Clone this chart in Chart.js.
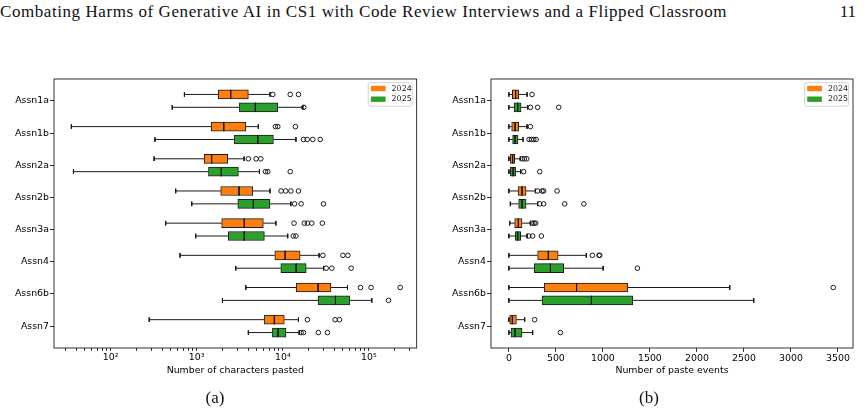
<!DOCTYPE html>
<html>
<head>
<meta charset="utf-8">
<script src="https://cdn.jsdelivr.net/npm/chart.js@4.4.1/dist/chart.umd.min.js"></script>
<style>
  html, body { margin: 0; padding: 0; background: #fff; }
  #page { position: relative; width: 868px; height: 413px; overflow: hidden; background: #fff; }
  .serif { position: absolute; font-family: 'Liberation Serif', 'DejaVu Serif', serif; color: #111; white-space: nowrap; font-size: 17px; }
  #header { left: 0; top: 2px; letter-spacing: 0.57px; }
  #pageno { right: 12px; top: 2px; }
  .caption { width: 100px; text-align: center; top: 388px; }
  canvas { position: absolute; top: 60px; }
</style>
</head>
<body>
<div id="page">
  <div id="header" class="serif">Combating Harms of Generative AI in CS1 with Code Review Interviews and a Flipped Classroom</div>
  <div id="pageno" class="serif">11</div>
  <canvas id="chars" width="434" height="330" style="left:0"></canvas>
  <canvas id="events" width="434" height="330" style="left:434px"></canvas>
  <div class="serif caption" style="left:165px">(a)</div>
  <div class="serif caption" style="left:599px">(b)</div>
</div>
<script>
// Assignments and cohorts
const categories = ['Assn1a', 'Assn1b', 'Assn2a', 'Assn2b', 'Assn3a', 'Assn4', 'Assn6b', 'Assn7'];
const years = ['2024', '2025'];
const yearColors = ['#ff7f0e', '#2ca02c'];

// Box stats per assignment: [whisker low, Q1, median, Q3, whisker high]
const chars2024 = [
  [720, 1780, 2480, 3980, 7100],
  [35, 1470, 2060, 3720, 5200],
  [320, 1220, 1490, 2290, 3550],
  [570, 1900, 3100, 4480, 7100],
  [436, 1950, 3570, 5940, 8300],
  [640, 8070, 10650, 15900, 26400],
  [3720, 14300, 25700, 36200, 56400],
  [281, 6110, 7980, 10400, 15200]
];
const chars2025 = [
  [520, 3130, 4800, 8750, 17100],
  [327, 2720, 5120, 7780, 14200],
  [37, 1370, 1930, 3050, 5350],
  [875, 3000, 4550, 7100, 12400],
  [973, 2330, 3570, 6110, 11400],
  [2840, 9480, 14300, 18700, 29700],
  [1990, 25700, 40900, 60100, 108000],
  [3980, 7570, 8810, 10900, 15500]
];
const charsOut2024 = [
  [7650, 12200, 15200],
  [8200, 8750, 14000],
  [3980, 4900, 5550],
  [9550, 10800, 12400, 15200],
  [13500, 17800, 19300, 21700, 28800],
  [29200, 49900, 57000],
  [79900, 106000, 231000],
  [19300, 40500, 45500]
];
const charsOut2025 = [
  [17500],
  [17400, 19200, 22300, 27200],
  [6300, 6700, 12200],
  [13700, 16300, 29700],
  [13200, 14200],
  [31900, 37100, 62200],
  [169000],
  [16300, 17400, 25900, 33000]
];

const events2024 = [
  [0, 37, 72, 104, 194],
  [0, 30, 66, 104, 194],
  [0, 16, 40, 62, 122],
  [0, 98, 140, 183, 282],
  [9, 62, 101, 140, 229],
  [0, 306, 420, 524, 824],
  [0, 376, 720, 1263, 2349],
  [0, 9, 37, 80, 168]
];
const events2025 = [
  [0, 56, 94, 130, 200],
  [0, 40, 66, 98, 151],
  [0, 16, 45, 72, 125],
  [16, 104, 140, 183, 306],
  [0, 69, 94, 126, 194],
  [0, 271, 442, 583, 1003],
  [0, 353, 878, 1318, 2604],
  [0, 23, 66, 140, 253]
];
const eventsOut2024 = [
  [247],
  [229],
  [140, 165, 190],
  [306, 353, 370, 513],
  [247, 268, 285],
  [888, 959, 966],
  [3450],
  [274]
];
const eventsOut2025 = [
  [229, 306, 530],
  [215, 240, 265, 290],
  [157, 328],
  [328, 370, 594, 798],
  [211, 253, 346],
  [1367],
  [],
  [548]
];

// Axis ticks
const charDecades = [10, 100, 1000, 10000, 100000];
const charMinorSteps = [1, 2, 3, 4, 5, 6, 7, 8, 9];
const charTickValues = [100, 1000, 10000, 100000];
const charTickLabels = ['10²', '10³', '10⁴', '10⁵'];
const eventTickValues = [0, 500, 1000, 1500, 2000, 2500, 3000, 3500];

Chart.defaults.font.family = "'DejaVu Sans', sans-serif";
Chart.defaults.font.size = 9.4;
Chart.defaults.color = '#000';

const OFFSET = 0.2;   // vertical shift of each cohort from the category
const CAP = 0.07;     // half height of whisker caps
const HALF = 0.14;    // half height of a box

// Build box, whisker/median and outlier datasets for one cohort
function cohortDatasets(stats, outliers, yearIdx) {
  const shift = yearIdx === 0 ? -OFFSET : OFFSET;
  const boxes = stats.map((s, i) => ({ x: [s[1], s[3]], y: i + shift }));
  const lines = [];
  stats.forEach((s, i) => {
    const y = i + shift;
    lines.push(
      { x: s[0], y }, { x: s[1], y }, { x: null, y: null },
      { x: s[3], y }, { x: s[4], y }, { x: null, y: null },
      { x: s[0], y: y - CAP }, { x: s[0], y: y + CAP }, { x: null, y: null },
      { x: s[4], y: y - CAP }, { x: s[4], y: y + CAP }, { x: null, y: null },
      { x: s[2], y: y - HALF }, { x: s[2], y: y + HALF }, { x: null, y: null }
    );
  });
  const points = [];
  outliers.forEach((list, i) => list.forEach(v => points.push({ x: v, y: i + shift })));
  return [
    {
      type: 'bar', label: years[yearIdx], data: boxes, indexAxis: 'y', grouped: false,
      barThickness: 9, backgroundColor: yearColors[yearIdx], borderColor: '#1a1a1a',
      borderWidth: 1, borderSkipped: false, order: 3
    },
    {
      type: 'line', data: lines, borderColor: '#1a1a1a', borderWidth: 1,
      pointRadius: 0, fill: false, spanGaps: false, tension: 0, order: 2
    },
    {
      type: 'scatter', data: points, pointRadius: 2.3, pointStyle: 'circle',
      backgroundColor: 'rgba(0,0,0,0)', borderColor: '#1a1a1a', borderWidth: 1, order: 1
    }
  ];
}

// Full box frame round the plot area
const frame = {
  id: 'frame',
  afterDatasetsDraw(chart) {
    const { ctx, chartArea: a } = chart;
    ctx.save();
    ctx.strokeStyle = '#000';
    ctx.lineWidth = 0.8;
    ctx.strokeRect(a.left, a.top, a.right - a.left, a.bottom - a.top);
    ctx.restore();
  }
};

// Small legend in the upper right corner, like matplotlib's
const boxLegend = {
  id: 'boxLegend',
  afterDraw(chart) {
    const { ctx, chartArea: a } = chart;
    const items = chart.data.datasets.filter(d => d.type === 'bar');
    const w = 44, h = 23.5;
    const x0 = a.right - 4.5 - w, y0 = a.top + 3.7;
    ctx.save();
    ctx.fillStyle = 'rgba(255,255,255,0.85)';
    ctx.strokeStyle = '#d4d4d4';
    ctx.lineWidth = 1;
    ctx.beginPath();
    ctx.roundRect(x0, y0, w, h, 2);
    ctx.fill();
    ctx.stroke();
    ctx.font = "7.9px 'DejaVu Sans'";
    ctx.textBaseline = 'middle';
    items.forEach((d, i) => {
      const cy = y0 + 5.8 + i * 10.7;
      ctx.fillStyle = d.backgroundColor;
      ctx.fillRect(x0 + 2.7, cy - 2.7, 14.7, 5.4);
      ctx.fillStyle = '#222';
      ctx.fillText(d.label, x0 + 23.4, cy);
    });
    ctx.restore();
  }
};

function yAxis(width) {
  return {
    type: 'linear', min: -0.68, max: 7.68, reverse: true, offset: false,
    afterBuildTicks: (scale) => { scale.ticks = categories.map((c, i) => ({ value: i })); },
    afterFit: (scale) => { scale.width = width; },
    ticks: { callback: (v) => categories[v] ?? '', padding: 1, autoSkip: false },
    grid: { offset: false, drawOnChartArea: false, drawTicks: true, tickLength: 4, color: '#000', tickWidth: 0.8 },
    border: { display: false }
  };
}

function xTitle(text) {
  return { display: true, text, color: '#000', padding: { top: 2, bottom: 4 } };
}

function makeChart(id, datasets, xScale, yWidth, padRight) {
  return new Chart(document.getElementById(id), {
    type: 'bar',
    data: { datasets },
    options: {
      responsive: false, animation: false, devicePixelRatio: 1,
      layout: { padding: { top: 19, right: padRight, bottom: 10, left: 0 } },
      plugins: { legend: { display: false }, tooltip: { enabled: false } },
      scales: { x: xScale, y: yAxis(yWidth) }
    },
    plugins: [frame, boxLegend]
  });
}

const charTicks = charDecades.flatMap(d => charMinorSteps.map(m => d * m));

makeChart('chars',
  [...cohortDatasets(chars2024, charsOut2024, 0), ...cohortDatasets(chars2025, charsOut2025, 1)],
  {
    type: 'logarithmic', min: 22, max: 359000, offset: false,
    afterBuildTicks: (scale) => {
      scale.ticks = charTicks.filter(v => v >= scale.min && v <= scale.max).map(v => ({ value: v }));
    },
    afterFit: (scale) => { scale.height = 32; },
    ticks: {
      autoSkip: false, maxRotation: 0, padding: 1,
      callback: (v) => { const k = charTickValues.indexOf(v); return k >= 0 ? charTickLabels[k] : ''; }
    },
    grid: { offset: false, drawOnChartArea: false, drawTicks: true, tickLength: 3, color: '#000', tickWidth: 0.8 },
    border: { display: false },
    title: xTitle('Number of characters pasted')
  },
  54, 17.3);

makeChart('events',
  [...cohortDatasets(events2024, eventsOut2024, 0), ...cohortDatasets(events2025, eventsOut2025, 1)],
  {
    type: 'linear', min: -190, max: 3660, offset: false,
    afterBuildTicks: (scale) => { scale.ticks = eventTickValues.map(v => ({ value: v })); },
    afterFit: (scale) => { scale.height = 32; },
    ticks: { autoSkip: false, maxRotation: 0, padding: 1, callback: (v) => String(v) },
    grid: { offset: false, drawOnChartArea: false, drawTicks: true, tickLength: 4, color: '#000', tickWidth: 0.8 },
    border: { display: false },
    title: xTitle('Number of paste events')
  },
  57, 15);
</script>
</body>
</html>
